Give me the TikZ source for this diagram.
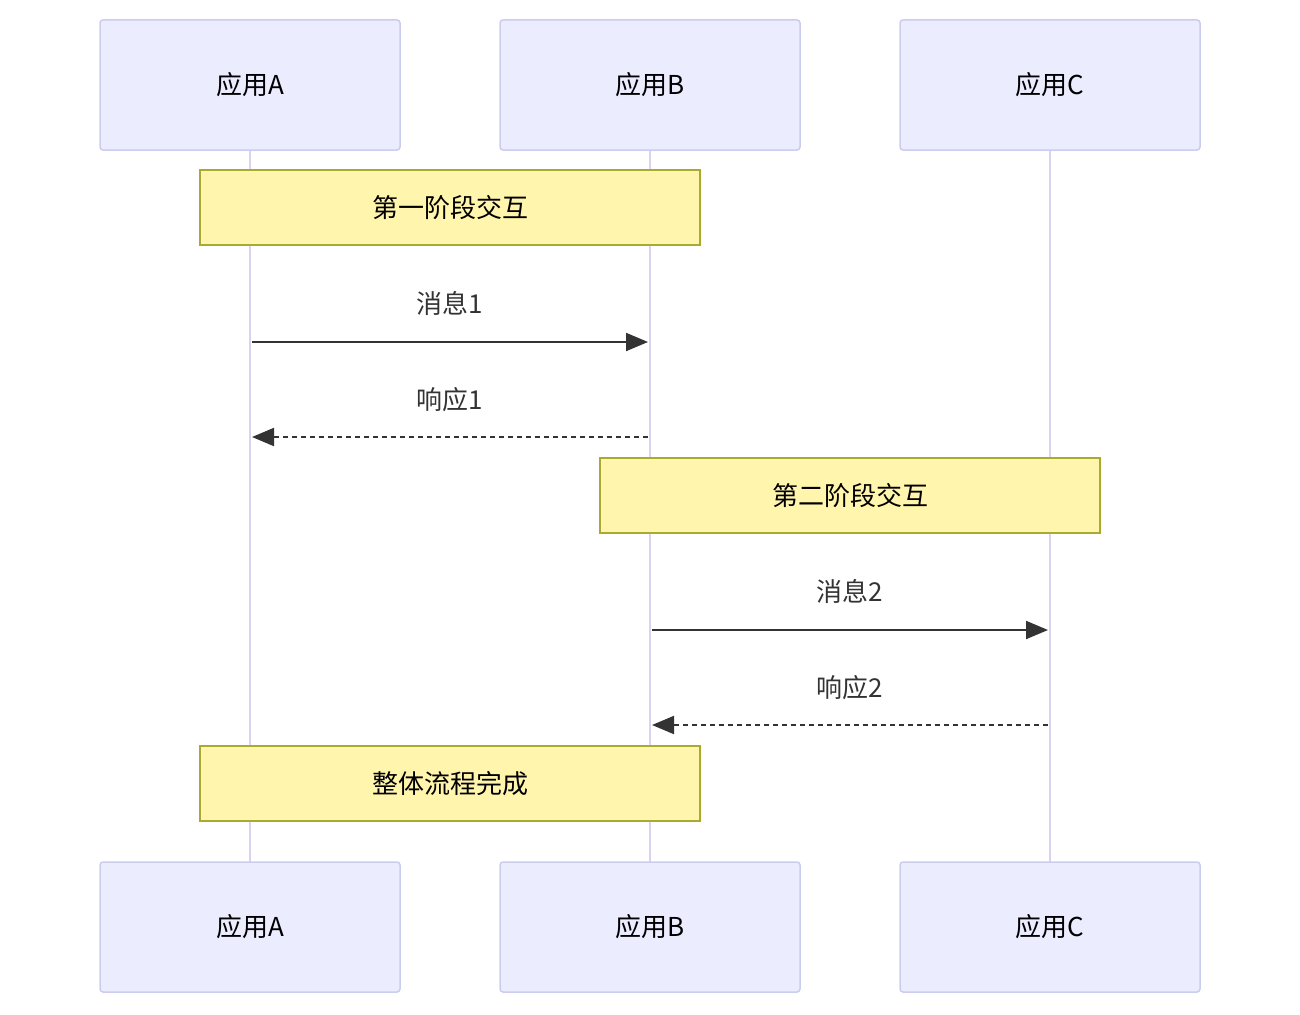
\documentclass[tikz,border=0pt]{standalone}
\usepackage{fontspec}
\setmainfont{Noto Sans CJK SC}
\usetikzlibrary{arrows.meta}
\definecolor{actf}{HTML}{ECECFF}
\definecolor{acts}{HTML}{CCCCEE}
\definecolor{life}{HTML}{DAD3F0}
\definecolor{notef}{HTML}{FFF5AD}
\definecolor{notes}{HTML}{AAAA33}
\definecolor{msg}{HTML}{333333}
\begin{document}
\begin{tikzpicture}[x=1pt,y=-1pt,
  actor/.style={draw=acts,fill=actf,line width=1.5pt,rounded corners=3pt,minimum width=300pt,minimum height=130pt,font=\fontsize{26}{30}\selectfont,inner sep=0},
  note/.style={draw=notes,fill=notef,line width=1.2pt,minimum width=500pt,minimum height=75pt,font=\fontsize{26}{30}\selectfont,inner sep=0},
  lbl/.style={font=\fontsize{26}{30}\selectfont,text=msg},
  lifeline/.style={draw=life,line width=2.5pt},
  m/.style={draw=msg,line width=2pt,-{Triangle[length=22pt,width=18pt]}},
  r/.style={m,dash pattern=on 5pt off 4pt}]
\useasboundingbox (0,0) rectangle (1300,1014);
\draw[lifeline] (250,150) -- (250,862);
\draw[lifeline] (650,150) -- (650,862);
\draw[lifeline] (1050,150) -- (1050,862);
\node[actor] (a1) at (250,85) {应用A};
\node[actor] (b1) at (650,85) {应用B};
\node[actor] (c1) at (1050,85) {应用C};
\node[actor] (a2) at (250,927) {应用A};
\node[actor] (b2) at (650,927) {应用B};
\node[actor] (c2) at (1050,927) {应用C};
\node[note] (n1) at (450,207.5) {第一阶段交互};
\node[note] (n2) at (850,495.5) {第二阶段交互};
\node[note] (n3) at (450,783.5) {整体流程完成};
\coordinate (p1) at (252,342); \coordinate (q1) at (648,342);
\coordinate (p2) at (648,437); \coordinate (q2) at (252,437);
\coordinate (p3) at (652,630); \coordinate (q3) at (1048,630);
\coordinate (p4) at (1048,725); \coordinate (q4) at (652,725);
\draw[m] (p1) -- (q1);
\draw[r] (p2) -- (q2);
\draw[m] (p3) -- (q3);
\draw[r] (p4) -- (q4);
\node[lbl] (l1) at (450,303) {消息1};
\node[lbl] (l2) at (450,400) {响应1};
\node[lbl] (l3) at (850,591) {消息2};
\node[lbl] (l4) at (850,688) {响应2};
\end{tikzpicture}
\end{document}
